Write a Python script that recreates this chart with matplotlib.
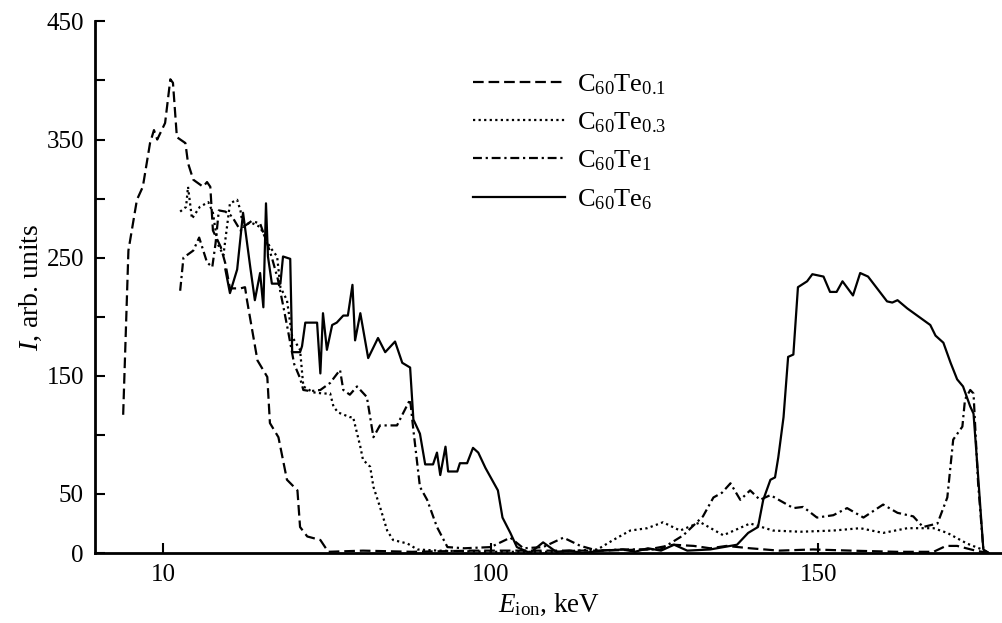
import matplotlib
matplotlib.use("Agg")
import matplotlib.pyplot as plt

plt.rcParams['font.family'] = ['Liberation Serif', 'DejaVu Serif']
plt.rcParams['mathtext.fontset'] = 'custom'
plt.rcParams['mathtext.rm'] = 'Liberation Serif'
plt.rcParams['mathtext.it'] = 'Liberation Serif:italic'

# ---------------- data ----------------
te01_x = [43.9, 44.7, 46.0, 46.9, 48.0, 48.6, 49.1, 50.3, 51.1, 51.5, 52.1, 53.4, 53.8, 54.6,
          56.1, 56.7, 57.2, 57.6, 58.8, 59.5, 60.2, 61.8, 62.5, 62.8, 64.4, 65.9, 66.3, 67.6,
          68.9, 70.5, 70.9, 72.0, 74.0, 75.2, 80.5, 88.0, 97.3, 104.5, 116.7, 124.0, 127.9,
          131.0, 133.5, 136.0, 139.6, 144.0, 149.2, 155.0, 162.0, 167.6, 169.5, 171.2, 174.0, 176.0]
te01_y = [117, 256, 299, 310, 347, 358, 350, 364, 401, 398, 352, 347, 330, 316,
          310, 314, 310, 273, 259, 245, 224, 224, 225, 214, 163, 149, 110, 98,
          62, 53, 22, 14, 11, 1, 2, 1, 2, 2, 2, 3, 7,
          6, 4, 6, 4, 2, 3, 2, 1, 1, 6, 6, 2, 0]

te03_x = [52.6, 53.5, 53.8, 54.4, 55.6, 56.9, 57.6, 58.3, 59.2, 60.2, 61.3, 61.8, 62.2, 63.3,
          64.8, 66.3, 67.4, 67.9, 68.9, 69.7, 70.9, 71.4, 72.9, 74.4, 75.5, 76.0, 76.7, 78.5,
          79.0, 80.1, 80.5, 81.6, 82.1, 83.1, 84.2, 85.1, 87.3, 88.8, 92.0, 100.0, 110.0, 116.3,
          118.7, 121.3, 123.9, 126.3, 128.9, 132.0, 135.5, 139.6, 143.1, 147.3, 152.3, 156.4,
          159.9, 163.6, 167.6, 169.7, 172.7, 175.0, 176.0]
te03_y = [289, 293, 310, 283, 293, 297, 288, 262, 252, 296, 299, 290, 276, 280,
          276, 259, 251, 225, 214, 183, 172, 141, 136, 135, 135, 124, 119, 115,
          115, 90, 79, 73, 56, 39, 19, 11, 8, 3, 2, 1, 1, 3,
          11, 19, 21, 26, 19, 26, 15, 25, 19, 18, 19, 21,
          17, 21, 21, 17, 8, 3, 0]

te1_x = [52.6, 53.1, 54.6, 55.5, 56.7, 57.5, 58.0, 58.5, 59.5, 60.5, 61.8, 62.5, 63.5, 64.8,
         65.7, 66.6, 67.5, 68.3, 69.0, 70.0, 70.9, 71.4, 72.5, 74.0, 75.5, 77.0, 77.5, 78.5,
         79.6, 81.1, 82.1, 83.1, 85.7, 86.6, 87.7, 88.2, 89.2, 90.3, 91.8, 93.4, 96.0, 100.0,
         103.0, 105.0, 108.0, 111.1, 113.7, 116.3, 120.0, 125.9, 129.4, 132.4, 134.0, 135.3,
         136.6, 138.1, 139.6, 141.1, 142.7, 146.2, 147.7, 149.8, 152.3, 154.4, 156.9, 159.9,
         162.1, 164.5, 166.0, 168.2, 169.7, 170.6, 172.0, 172.4, 173.2, 173.7, 174.4, 175.2, 176.0]
te1_y = [222, 250, 256, 267, 246, 242, 262, 290, 289, 285, 273, 277, 281, 279,
         265, 250, 232, 210, 190, 160, 148, 138, 137, 138, 144, 155, 138, 134,
         141, 132, 98, 108, 108, 118, 130, 104, 56, 45, 22, 5, 4, 5,
         13, 4, 5, 13, 6, 2, 3, 3, 15, 31, 47, 51,
         59, 45, 53, 45, 49, 38, 39, 30, 32, 38, 30, 41,
         34, 31, 22, 25, 47, 96, 107, 130, 138, 135, 59, 3, 0]

te6_x = [59.5, 60.2, 61.3, 62.2, 63.3, 64.0, 64.8, 65.3, 65.7, 66.0, 66.6, 67.9, 68.3, 69.4,
         69.7, 70.9, 71.2, 71.7, 73.5, 74.0, 74.4, 75.0, 75.8, 76.5, 77.5, 78.2, 78.9, 79.3,
         80.1, 81.3, 82.8, 83.9, 85.4, 86.5, 87.7, 88.2, 89.2, 90.0, 91.2, 91.8, 92.3, 93.1,
         93.5, 94.9, 95.3, 96.4, 97.3, 98.1, 99.2, 100.4, 101.1, 101.8, 103.0, 104.0, 106.0,
         108.0, 110.0, 112.0, 114.0, 117.0, 120.2, 122.0, 124.0, 126.0, 128.0, 130.0, 133.5,
         137.6, 139.3, 140.8, 141.6, 142.7, 143.4, 143.9, 144.7, 145.4, 146.2, 146.9, 148.3,
         149.1, 150.8, 151.8, 152.8, 153.7, 155.3, 156.4, 157.6, 160.5, 161.3, 162.1, 163.6,
         165.6, 167.1, 167.9, 169.1, 170.2, 171.2, 172.1, 173.2, 173.7, 174.3, 175.2, 176.0]
te6_y = [240, 220, 240, 288, 242, 214, 237, 208, 296, 251, 228, 228, 251, 249,
         170, 170, 175, 195, 195, 152, 203, 172, 193, 195, 201, 201, 227, 180,
         203, 165, 182, 170, 179, 161, 157, 113, 101, 75, 75, 85, 66, 90,
         69, 69, 76, 76, 89, 85, 72, 60, 53, 30, 17, 5, 0,
         9, 1, 2, 0, 2, 3, 1, 4, 2, 7, 2, 3,
         7, 17, 22, 45, 62, 64, 81, 115, 166, 168, 225, 230,
         236, 234, 221, 221, 230, 218, 237, 234, 213, 212, 214, 207,
         199, 193, 184, 178, 161, 147, 141, 124, 118, 73, 3, 0]

labels = [r'C$_{60}$Te$_{0.1}$', r'C$_{60}$Te$_{0.3}$', r'C$_{60}$Te$_{1}$', r'C$_{60}$Te$_{6}$']
x_ticks = [50, 100, 150]
x_tick_labels = ['10', '100', '150']
y_ticks = [0, 50, 100, 150, 200, 250, 300, 350, 400, 450]
y_tick_labels = ['0', '50', '', '150', '', '250', '', '350', '', '450']

# ---------------- figure ----------------
W, H = 1003, 623
fig = plt.figure(figsize=(W / 100, H / 100), dpi=100)
ax = fig.add_axes([95 / W, (H - 553) / H, (W - 95) / W, (553 - 21.4) / H])

lw = 1.6
ax.plot(te01_x, te01_y, color='black', lw=lw, linestyle=(0, (4.8, 2.2)), label=labels[0])
ax.plot(te03_x, te03_y, color='black', lw=lw, linestyle=(0, (1, 1.5)), label=labels[1])
ax.plot(te1_x, te1_y, color='black', lw=lw, linestyle=(0, (4.0, 1.7, 1, 1.7)), label=labels[2])
ax.plot(te6_x, te6_y, color='black', lw=lw, linestyle='-', label=labels[3])

ax.set_xlim(39.6, 178.2)
ax.set_ylim(0, 450)
ax.set_xticks(x_ticks)
ax.set_xticklabels(x_tick_labels)
ax.set_yticks(y_ticks)
ax.set_yticklabels(y_tick_labels)

for s in ['top', 'right']:
    ax.spines[s].set_visible(False)
for s in ['left', 'bottom']:
    ax.spines[s].set_linewidth(2.0)

ax.tick_params(axis='both', direction='in', length=7, width=1.5, labelsize=18, pad=8)

ax.set_xlabel(r'$E_{\mathrm{ion}}$, keV', fontsize=19.5, labelpad=4)
ax.set_ylabel(r'$I$, arb. units', fontsize=20, labelpad=2)

leg = ax.legend(loc='upper left', bbox_to_anchor=(473 / W, 1 - 72 / H), bbox_transform=fig.transFigure,
                frameon=False, fontsize=19, handlelength=3.5, handletextpad=0.45,
                labelspacing=0.52, borderpad=0, borderaxespad=0)

fig.savefig('out.png', dpi=100)
